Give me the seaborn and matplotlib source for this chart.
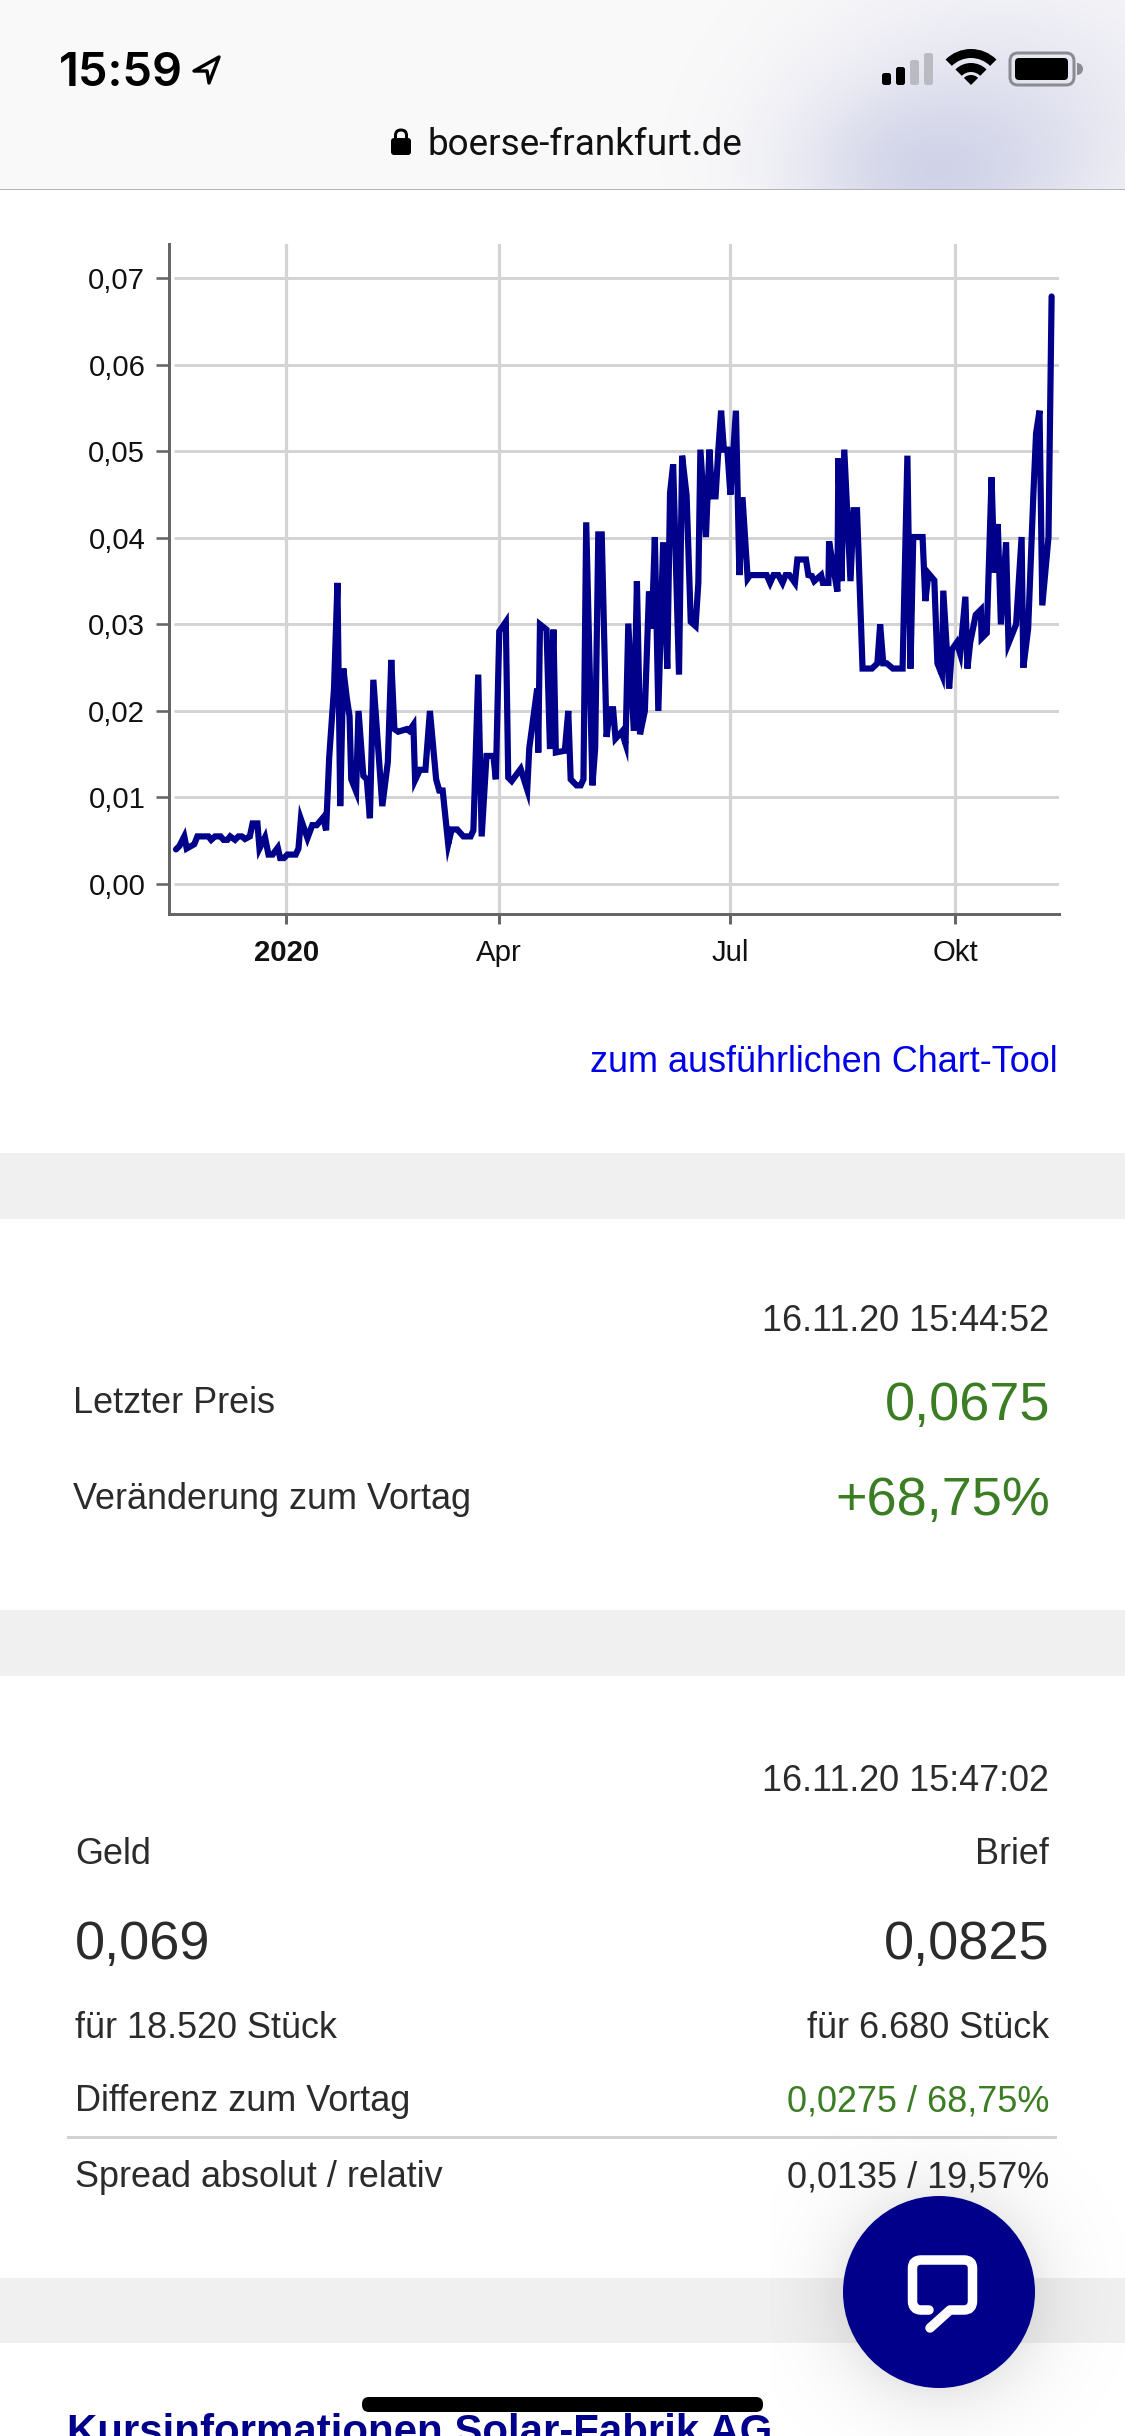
import numpy as np
import pandas as pd
import matplotlib
matplotlib.use("Agg")
import matplotlib.pyplot as plt
from matplotlib.patches import FancyBboxPatch, Circle, Polygon, Rectangle, PathPatch, Wedge
from matplotlib.path import Path
import seaborn as sns

# ---- data -------------------------------------------------------------
sessions_a = [0,1.0,2.4,3.1,5.3,6.2,9.4,10.2,11.3,12.9,13.8,14.9,15.7,17.1,18.1,19.1,20.0,21.4,22.2,23.6,24.2,25.8,26.8,28.0,29.5,30.2,31.3,32.3,34.7,35.5,36.2,38.1,39.5,40.8,42.7,43.5,44.4,45.8,46.8,47.6,48.5,49.5,50.3,50.8,52.2,52.9,54.3,55.3,56.2,57.2,59.8,61.4,62.4,63.3,64.4,66.9,67.6,68.8,69.3,70.7,72.3,73.6,75.4,76.3,77.3,78.9,79.9]
prices_a = [.0040,.0044,.0055,.0041,.0046,.0055,.0055,.0051,.0055,.0055,.0051,.0051,.0055,.0051,.0055,.0055,.0052,.0055,.0070,.0070,.0041,.0054,.0034,.0034,.0042,.0030,.0030,.0034,.0034,.0041,.0075,.0053,.0068,.0068,.0077,.0062,.0146,.0226,.0348,.0090,.0249,.0215,.0194,.0121,.0107,.0200,.0125,.0121,.0076,.0236,.0090,.0141,.0259,.0179,.0176,.0179,.0177,.0184,.0120,.0132,.0132,.0200,.0121,.0108,.0108,.0046,.0063]
sessions_b = [80.4,81.5,83.3,85.4,86.2,87.6,88.6,90.0,92.0,92.7,93.7,95.6,96.3,97.3,99.9,101.8,102.4,104.7,105.0,105.5,107.4,108.4,109.4,110.1,112.7,113.7,114.4,116.1,117.3,118.1,118.9,120.7,121.5,122.4,123.4,124.8,125.8,126.7,127.4,129.2,130.3,131.1,132.7,133.6,134.5,135.9,137.1,137.9,138.8,139.8,141.2,142.4,143.2,144.1,145.8,146.7,148.0,149.2,150.6,151.4,152.0,153.6,154.6,155.4,156.4,157.2,158.0,158.8,159.8,160.7,162.3,163.3,164.2,165.7]
prices_b = [.0063,.0063,.0055,.0055,.0062,.0242,.0055,.0148,.0148,.0121,.0292,.0303,.0123,.0119,.0133,.0109,.0157,.0226,.0152,.0300,.0294,.0156,.0294,.0152,.0154,.0200,.0121,.0114,.0114,.0121,.0418,.0114,.0157,.0404,.0404,.0170,.0202,.0202,.0168,.0176,.0162,.0301,.0177,.0350,.0173,.0200,.0338,.0295,.0401,.0200,.0395,.0249,.0452,.0485,.0242,.0495,.0449,.0303,.0298,.0348,.0502,.0401,.0502,.0448,.0448,.0502,.0547,.0502,.0502,.0450,.0547,.0357,.0447,.0353]
sessions_c = [166.4,171.2,172.2,173.2,174.6,175.8,176.7,177.8,179.4,180.1,182.6,183.3,184.3,185.0,187.0,187.5,189.1,189.3,190.6,191.7,192.0,192.9,193.7,195.5,196.4,197.4,199.0,201.7,203.3,204.1,205.0,206.0,207.8,210.6,212.0,212.9,213.7,216.4,217.2,218.1,219.8,220.7,222.0,222.4,224.1,224.9,226.3,227.3,228.8,229.4,230.2,231.8,233.3,233.5,235.0,236.4,237.2,238.2,239.1,240.6,241.3,243.5,245.1,245.6,247.0,248.5,249.3,250.3,251.1,252.9,253.8]
prices_c = [.0357,.0357,.0348,.0357,.0357,.0348,.0357,.0357,.0348,.0375,.0375,.0357,.0356,.0350,.0357,.0348,.0348,.0396,.0364,.0338,.0492,.0350,.0502,.0350,.0432,.0432,.0249,.0249,.0255,.0300,.0255,.0255,.0249,.0249,.0495,.0249,.0401,.0401,.0327,.0359,.0351,.0255,.0242,.0339,.0226,.0271,.0279,.0266,.0332,.0249,.0279,.0311,.0317,.0284,.0290,.0470,.0360,.0416,.0300,.0395,.0278,.0300,.0401,.0250,.0295,.0449,.0521,.0547,.0322,.0401,.0679]

y_ticks = [0.00, 0.01, 0.02, 0.03, 0.04, 0.05, 0.06, 0.07]
y_tick_labels = ["0,00", "0,01", "0,02", "0,03", "0,04", "0,05", "0,06", "0,07"]
x_ticks = [32.0, 93.7, 160.6, 225.8]
x_tick_labels = ["2020", "Apr", "Jul", "Okt"]

W, H = 1125, 2436
sns.set_theme(style="white")
plt.rcParams["font.family"] = ["Liberation Sans", "DejaVu Sans"]

NAVY = "#00008b"
GRID = "#d4d4d4"
AXC = "#666666"
INK = "#2b2b2b"
GREEN = "#3a7d23"
BAND = "#f0f0f0"

fig = plt.figure(figsize=(W / 100, H / 100), dpi=100, facecolor="white")
def px(v):
    return v * 0.72

def overlay(z):
    a = fig.add_axes([0, 0, 1, 1], zorder=z)
    a.set_xlim(0, W); a.set_ylim(H, 0); a.axis("off")
    a.patch.set_alpha(0)
    return a

back = overlay(0)
front = overlay(5)

# ---- page background --------------------------------------------------
yy, xx = np.mgrid[0:190, 0:W]
blob = 0.85 * np.exp(-(((xx - 935) / 95.0) ** 2 + ((yy - 172) / 62.0) ** 2) / 2)
blob2 = 0.42 * np.exp(-(((xx - 1010) / 130.0) ** 2 + ((yy - 110) / 95.0) ** 2) / 2)
al = np.clip(1 - (1 - blob) * (1 - blob2), 0, 1)[..., None]
img = (1 - al) * np.array([250, 250, 250]) / 255 + al * np.array([204, 206, 230]) / 255
back.imshow(img, extent=(0, W, 190, 0), aspect="auto", zorder=0, interpolation="bilinear")
back.set_xlim(0, W); back.set_ylim(H, 0)
back.add_patch(Rectangle((0, 188.5), W, 1.6, color="#b4b4b4", lw=0, zorder=1))
for top, bottom in [(1153, 1219), (1610, 1676), (2278, 2343)]:
    back.add_patch(Rectangle((0, top), W, bottom - top, color=BAND, lw=0, zorder=1))
back.add_patch(Rectangle((67, 2135.5), 990, 3, color="#d2d2d2", lw=0, zorder=1))

# ---- chart ------------------------------------------------------------
L, R, T_, B = 169.3, 1059.0, 244.0, 914.0
ax = fig.add_axes([L / W, 1 - B / H, (R - L) / W, (B - T_) / H], zorder=2)
ax.patch.set_alpha(0)
df = pd.DataFrame({"session": sessions_a + sessions_b + sessions_c,
                   "price": prices_a + prices_b + prices_c})
for v in y_ticks:
    ax.axhline(v, xmin=(175 - L) / (R - L), color=GRID, lw=px(3), zorder=1)
ax.set_xticks(x_ticks)
ax.set_xticklabels(x_tick_labels)
ax.set_yticks(y_ticks)
ax.set_yticklabels(y_tick_labels)
ax.grid(axis="x", color=GRID, lw=px(3.2), zorder=1)
ax.set_axisbelow(True)
sns.lineplot(data=df, x="session", y="price", estimator=None, sort=False, ax=ax,
             color=NAVY, linewidth=px(6.2), solid_joinstyle="miter", zorder=3)
ax.set_xlabel(""); ax.set_ylabel("")
ax.set_xlim((L - 176) / 3.45, (R - 176) / 3.45)
ax.set_ylim(-(914 - 884) / 8652, 0.07 + (278.3 - 244) / 8652)
sns.despine(ax=ax, top=True, right=True)
for s in ("left", "bottom"):
    ax.spines[s].set_color(AXC)
    ax.spines[s].set_linewidth(px(3))
ax.tick_params(axis="y", left=True, length=px(13), width=px(2.6), color=AXC, pad=px(11),
               labelsize=px(29.4), labelcolor="#111111")
ax.tick_params(axis="x", bottom=True, length=px(10), width=px(3), color=AXC, pad=px(15),
               labelsize=px(29.4), labelcolor="#111111")
ax.get_xticklabels()[0].set_fontweight("bold")

# ---- page text --------------------------------------------------------
def T(x, y, s, size, ha="left", color=INK, weight="normal", family=None, a=front):
    kw = {"family": family} if family else {}
    a.text(x, y + 0.358 * size, s, fontsize=px(size), ha=ha, va="baseline",
           color=color, fontweight=weight, **kw)

BODY = 36.0
T(59, 69, "15:59", 47, weight="semibold", color="black", family="Inter")
T(428, 142, "boerse-frankfurt.de", 36.9, ha="left", color="#111111", family="Roboto")
T(1058, 1059, "zum ausführlichen Chart-Tool", BODY, ha="right", color="#0000e6")

RX = 1049
T(RX, 1318.5, "16.11.20 15:44:52", BODY, ha="right")
T(73, 1400.5, "Letzter Preis", BODY)
T(RX + 1, 1401, "0,0675", 54, ha="right", color=GREEN)
T(73, 1496.5, "Veränderung zum Vortag", BODY)
T(RX + 1, 1496, "+68,75%", 54, ha="right", color=GREEN)

T(RX, 1778.5, "16.11.20 15:47:02", BODY, ha="right")
T(75, 1851.5, "Geld", BODY)
T(RX, 1851.5, "Brief", BODY, ha="right")
T(75, 1940, "0,069", 54)
T(RX, 1940, "0,0825", 54, ha="right")
T(75, 2025.5, "für 18.520 Stück", BODY)
T(RX, 2025.5, "für 6.680 Stück", BODY, ha="right")
T(75, 2098.5, "Differenz zum Vortag", BODY)
T(RX, 2098.5, "0,0275 / 68,75%", BODY, ha="right", color=GREEN)
T(75, 2174.5, "Spread absolut / relativ", BODY)
T(RX, 2174.5, "0,0135 / 19,57%", BODY, ha="right")
T(67, 2429, "Kursinformationen Solar-Fabrik AG", 42, color=NAVY, weight="bold")

# ---- status bar icons -------------------------------------------------
front.add_patch(Polygon([(219, 57), (194, 71), (207, 71), (209, 83)], closed=True, fill=False,
                        ec="black", lw=px(3.4), joinstyle="round"))
for x0, top, col in [(882, 73, "black"), (896, 67, "black"), (910, 60, "#b9bac2"), (924, 53, "#b9bac2")]:
    front.add_patch(FancyBboxPatch((x0 + 2, top + 2), 5, 85 - top - 4, boxstyle="round,pad=2,rounding_size=2.5",
                                   fc=col, ec="none"))
wifi_cx, wifi_cy = 971, 85
for r, w in [(36, 9), (22, 9)]:
    front.add_patch(Wedge((wifi_cx, wifi_cy), r, 225, 315, width=w, fc="black", ec="none"))
front.add_patch(Wedge((wifi_cx, wifi_cy), 10, 225, 315, fc="black", ec="none"))
front.add_patch(FancyBboxPatch((1012, 55), 60, 28, boxstyle="round,pad=2,rounding_size=8", fc="none", ec="#8b8b92", lw=px(3)))
front.add_patch(FancyBboxPatch((1017, 60), 49, 18, boxstyle="round,pad=2,rounding_size=4", fc="black", ec="none"))
front.add_patch(Wedge((1077, 69), 6, -90, 90, fc="#8b8b92", ec="none"))

# lock
front.add_patch(FancyBboxPatch((393, 140), 16, 13, boxstyle="round,pad=2,rounding_size=3", fc="black", ec="none"))
front.add_patch(FancyBboxPatch((395.5, 130), 11, 14, boxstyle="round,pad=0,rounding_size=5.5", fc="none", ec="black", lw=px(3)))

# ---- chat button ------------------------------------------------------
cx, cy = 939, 2292
yy, xx = np.mgrid[2130:2436, 770:1125]
rr = np.hypot(xx - cx, yy - cy - 3)
shadow = 0.10 * np.exp(-np.clip(rr - 90, 0, None) / 32.0)
rgba = np.zeros(rr.shape + (4,))
rgba[..., 3] = shadow
front.imshow(rgba, extent=(770, 1125, 2436, 2130), aspect="auto", zorder=1)
front.set_xlim(0, W); front.set_ylim(H, 0)
front.add_patch(Circle((cx, cy), 96, fc=NAVY, ec="none", zorder=2))
verts = [(929, 2310), (921, 2310), (912.5, 2310), (912.5, 2301), (912.5, 2268), (912.5, 2260), (921, 2260),
         (964, 2260), (972.5, 2260), (972.5, 2268), (972.5, 2301), (972.5, 2310), (964, 2310),
         (950, 2310), (930, 2328)]
codes = [Path.MOVETO, Path.LINETO, Path.CURVE3, Path.CURVE3, Path.LINETO, Path.CURVE3, Path.CURVE3,
         Path.LINETO, Path.CURVE3, Path.CURVE3, Path.LINETO, Path.CURVE3, Path.CURVE3, Path.LINETO, Path.LINETO]
front.add_patch(PathPatch(Path(verts, codes), fc="none", ec="white", lw=px(9.5), capstyle="round", joinstyle="round", zorder=3))

# home indicator
front.add_patch(FancyBboxPatch((369, 2404), 387, 1, boxstyle="round,pad=7,rounding_size=7", fc="black", ec="none", zorder=4))

fig.savefig("out.png", dpi=100, facecolor="white")
